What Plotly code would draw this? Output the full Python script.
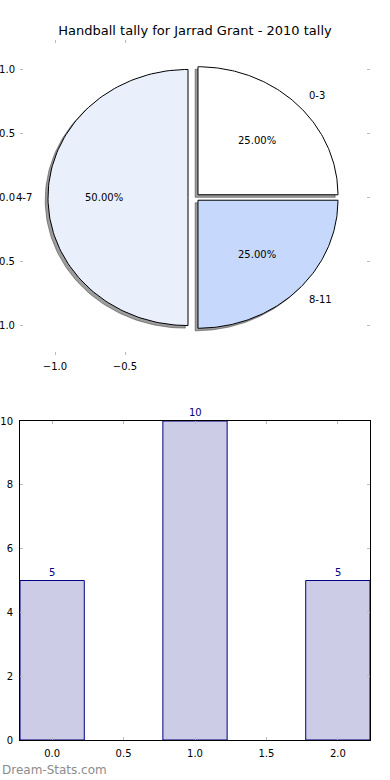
import numpy as np
import plotly.graph_objects as go

# ---- data ----
title = "Handball tally for Jarrad Grant - 2010 tally"
pie_labels = ["0-3", "4-7", "8-11"]
pie_values = [5, 10, 5]
pie_colors = ["#FFFFFF", "#E9F0FC", "#C6D9FD"]
pie_explode = [0.03, 0.05, 0.03]

bar_x = [0, 1, 2]
bar_values = [5, 10, 5]
pie_yticks = [-1.0, -0.5, 0.0, 0.5, 1.0]
pie_xticks = [-1.0, -0.5]
bar_xticks = [0.0, 0.5, 1.0, 1.5, 2.0]
bar_yticks = [0, 2, 4, 6, 8, 10]
watermark = "Dream-Stats.com"

FONT = "DejaVu Sans"
fig = go.Figure()

total = float(sum(pie_values))
start = 0.0
shadow_traces = []
wedge_traces = []
annots = []
for lab, val, col, ex in zip(pie_labels, pie_values, pie_colors, pie_explode):
    frac = val / total
    t1 = start
    t2 = start + 360.0 * frac
    start = t2
    mid = np.deg2rad((t1 + t2) / 2)
    cx = ex * np.cos(mid)
    cy = ex * np.sin(mid)
    th = np.deg2rad(np.linspace(t1, t2, 120))
    xs = np.concatenate([[cx], cx + np.cos(th), [cx]])
    ys = np.concatenate([[cy], cy + np.sin(th), [cy]])
    shadow_traces.append(go.Scatter(
        x=xs - 0.02, y=ys - 0.02, mode="lines", fill="toself",
        fillcolor="rgba(60,60,60,0.5)", line=dict(color="rgba(60,60,60,0.5)", width=1),
        hoverinfo="skip", showlegend=False, xaxis="x", yaxis="y"))
    wedge_traces.append(go.Scatter(
        x=xs, y=ys, mode="lines", fill="toself", fillcolor=col,
        line=dict(color="black", width=1), hoverinfo="skip",
        showlegend=False, xaxis="x", yaxis="y"))
    # outer label
    lx = cx + 1.1 * np.cos(mid)
    ly = cy + 1.1 * np.sin(mid)
    annots.append(dict(x=lx, y=ly, xref="x", yref="y", text=lab, showarrow=False,
                       xanchor="left" if lx > 0 else "right", yanchor="middle",
                       font=dict(family=FONT, size=10, color="black")))
    px_ = cx + 0.6 * np.cos(mid)
    py_ = cy + 0.6 * np.sin(mid)
    annots.append(dict(x=px_, y=py_, xref="x", yref="y", text="%.2f%%" % (100 * frac),
                       showarrow=False, xanchor="center", yanchor="middle",
                       font=dict(family=FONT, size=10, color="black")))

for t in shadow_traces + wedge_traces:
    fig.add_trace(t)

fig.add_trace(go.Bar(
    x=bar_x, y=bar_values, width=0.45,
    marker=dict(color="rgba(0,0,128,0.2)", line=dict(color="#000080", width=1)),
    hoverinfo="skip", showlegend=False, xaxis="x2", yaxis="y2"))

for xv, yv in zip(bar_x, bar_values):
    annots.append(dict(x=xv, y=yv, xref="x2", yref="y2", text=str(yv), showarrow=False,
                       xanchor="center", yanchor="bottom", yshift=1,
                       font=dict(family=FONT, size=10, color="#000080")))

annots.append(dict(x=-20 / 350, y=-30 / 700, xref="paper", yref="paper", text=watermark,
                   showarrow=False, xanchor="left", yanchor="middle",
                   font=dict(family=FONT, size=12, color="#8c8c8c")))

tickc = "#bbbbbb"
common = dict(ticks="inside", ticklen=3, tickcolor=tickc, mirror="ticks", showgrid=False,
              zeroline=False, fixedrange=True, automargin=False, ticklabelstandoff=4)
fig.update_layout(
    width=390, height=780,
    margin=dict(l=20, r=20, t=40, b=40, autoexpand=False),
    paper_bgcolor="white", plot_bgcolor="white",
    font=dict(family=FONT, size=10, color="black"),
    title=dict(text=title, x=0.5, xanchor="center", y=1 - 30 / 780, yanchor="middle",
               font=dict(family=FONT, size=13, color="black")),
    xaxis=dict(domain=[0, 1], anchor="y", range=[-1.25, 1.25], tickvals=pie_xticks,
               tickformat=".1f", showline=False, **common),
    yaxis=dict(domain=[(740 - 355) / 700, 1.0], anchor="x", range=[-1.23, 1.23],
               tickvals=pie_yticks, tickformat=".1f", showline=False, **common),
    xaxis2=dict(domain=[0, 1], anchor="y2", range=[-0.225, 2.225], tickvals=bar_xticks,
                tickformat=".1f", showline=True, linecolor="black", linewidth=1, **common),
    yaxis2=dict(domain=[0, (740 - 421) / 700], anchor="x2", range=[0, 10],
                tickvals=bar_yticks, showline=True, linecolor="black", linewidth=1, **common),
    annotations=annots,
)

fig.write_html("out.html", config={"displayModeBar": False},
               post_script="document.body.style.margin='0';")
